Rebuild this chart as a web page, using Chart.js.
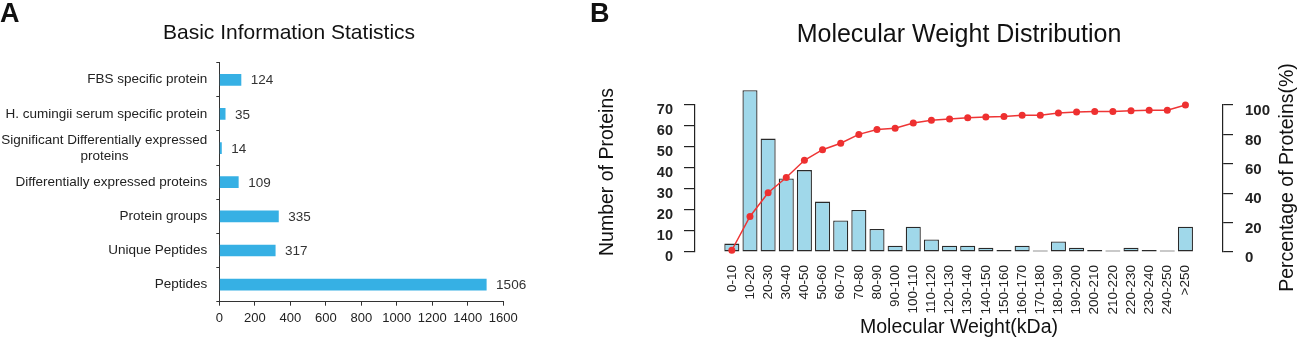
<!DOCTYPE html>
<html>
<head>
<meta charset="utf-8">
<script src="https://cdn.jsdelivr.net/npm/chart.js@4.4.1/dist/chart.umd.min.js"></script>
<style>
  html, body { margin: 0; padding: 0; background: #fff; }
  body { width: 1300px; height: 341px; position: relative; overflow: hidden; font-family: "Liberation Sans", Arial, sans-serif; }
  .tag { position: absolute; top: 0; font-weight: bold; font-size: 27px; line-height: 27px; color: #111; z-index: 2; }
  #wrapA { position: absolute; left: 0; top: 0; width: 578px; height: 341px; }
  #wrapB { position: absolute; left: 580px; top: 0; width: 720px; height: 341px; }
</style>
</head>
<body>
<div id="wrapA"><canvas id="chartA" width="578" height="341"></canvas></div>
<div id="wrapB"><canvas id="chartB" width="720" height="341"></canvas></div>
<div class="tag" style="left:0px">A</div>
<div class="tag" style="left:590px">B</div>
<script>
// panel A - basic info
// (the trailing spaces push "proteins" under the middle of the line above)
const basicLabels = [
  'FBS specific protein',
  'H. cumingii serum specific protein',
  ['Significant Differentially expressed', 'proteins' + '\u00a0'.repeat(21)],
  'Differentially expressed proteins',
  'Protein groups',
  'Unique Peptides',
  'Peptides'
];
const basicCounts = [124, 35, 14, 109, 335, 317, 1506];

// panel B - molecular weight
const weightBins = ['0-10', '10-20', '20-30', '30-40', '40-50', '50-60', '60-70', '70-80', '80-90', '90-100',
  '100-110', '110-120', '120-130', '130-140', '140-150', '150-160', '160-170', '170-180', '180-190',
  '190-200', '200-210', '210-220', '220-230', '230-240', '240-250', '>250'];
const proteinCounts = [4, 77, 54, 35, 39, 24, 15, 20, 11, 3, 12, 6, 3, 3, 2, 1, 3, 0, 5, 2, 1, 0, 2, 1, 0, 12];
const cumulativePct = [1.2, 24.2, 40.3, 50.7, 62.4, 69.6, 74.0, 80.0, 83.3, 84.2, 87.8, 89.6, 90.4, 91.3,
  91.9, 92.2, 93.1, 93.1, 94.6, 95.2, 95.5, 95.5, 96.1, 96.4, 96.4, 100];

const FONT = '"Liberation Sans", Arial, sans-serif';
Chart.defaults.font.family = FONT;
Chart.defaults.color = '#222';

// numbers right of the bars in panel A
const barValueLabels = {
  id: 'barValueLabels',
  afterDatasetsDraw(chart) {
    const ctx = chart.ctx;
    const meta = chart.getDatasetMeta(0);
    ctx.save();
    ctx.font = '13.5px ' + FONT;
    ctx.fillStyle = '#333';
    ctx.textBaseline = 'middle';
    meta.data.forEach((bar, i) => {
      ctx.fillText(String(basicCounts[i]), bar.x + 9.5, bar.y + 1);
    });
    ctx.restore();
  }
};

// both y titles of panel B read bottom to top
const sideTitles = {
  id: 'sideTitles',
  afterDraw(chart) {
    const area = chart.chartArea;
    const ctx = chart.ctx;
    const mid = (area.top + area.bottom) / 2;
    const put = (text, x, y) => {
      ctx.save();
      ctx.translate(x, y);
      ctx.rotate(-Math.PI / 2);
      ctx.font = '19.5px ' + FONT;
      ctx.fillStyle = '#111';
      ctx.textAlign = 'center';
      ctx.textBaseline = 'middle';
      ctx.fillText(text, 0, 0);
      ctx.restore();
    };
    put('Number of Proteins', chart.scales.y.left + 28, mid - 6.5);
    put('Percentage of Proteins(%)', chart.scales.y2.right - 12, mid - 1);
  }
};

new Chart(document.getElementById('chartA'), {
  type: 'bar',
  data: {
    labels: basicLabels,
    datasets: [{
      data: basicCounts,
      backgroundColor: '#36b0e4',
      barPercentage: 0.343,
      categoryPercentage: 1
    }]
  },
  options: {
    indexAxis: 'y',
    responsive: false,
    animation: false,
    layout: { padding: 0 },
    plugins: {
      legend: { display: false },
      tooltip: { enabled: false },
      title: {
        display: true,
        text: 'Basic Information Statistics',
        color: '#111',
        font: { size: 21, weight: 'normal' },
        padding: { top: 20.4, bottom: 17.1 }
      }
    },
    scales: {
      x: {
        min: 0,
        max: 1600,
        ticks: { stepSize: 200, maxRotation: 0, autoSkip: false, font: { size: 13 }, color: '#222', padding: 5,
          callback: (v) => String(v) },
        grid: { drawOnChartArea: false, tickLength: 4, color: '#333' },
        border: { color: '#333' },
        afterFit: (s) => { s.height = 39.3; }
      },
      y: {
        ticks: { autoSkip: false, font: { size: 13.5 }, color: '#222', padding: 9 },
        grid: { drawOnChartArea: false, tickLength: 3, color: '#333', offset: true },
        border: { color: '#333' },
        afterFit: (s) => { s.width = 219.3; }
      },
      // empty strip on the right so the title centres like the original
      pad: {
        type: 'linear',
        position: 'right',
        display: true,
        ticks: { display: false },
        grid: { display: false, drawTicks: false },
        border: { display: false },
        afterFit: (s) => { s.width = 74.7; }
      }
    }
  },
  plugins: [barValueLabels]
});

new Chart(document.getElementById('chartB'), {
  data: {
    datasets: [
      {
        type: 'line',
        data: weightBins.map((b, i) => ({ x: i, y: cumulativePct[i] })),
        yAxisID: 'y2',
        borderColor: '#ee3535',
        backgroundColor: '#ee3030',
        borderWidth: 1.5,
        pointRadius: 3.5,
        pointBorderWidth: 0,
        tension: 0,
        clip: false,
        order: 0
      },
      {
        type: 'bar',
        data: weightBins.map((b, i) => ({ x: i, y: proteinCounts[i] })),
        yAxisID: 'y',
        backgroundColor: '#a0d8ea',
        borderColor: '#2a2a2a',
        borderWidth: 1.3,
        borderSkipped: false,
        minBarLength: 1.5,
        barPercentage: 0.83,
        categoryPercentage: 1,
        clip: false,
        order: 1
      }
    ]
  },
  options: {
    responsive: false,
    animation: false,
    layout: { padding: 0 },
    plugins: {
      legend: { display: false },
      tooltip: { enabled: false },
      title: {
        display: true,
        text: 'Molecular Weight Distribution',
        fullSize: false,
        color: '#111',
        font: { size: 25, weight: 'normal' },
        padding: { top: 20, bottom: 55 }
      }
    },
    scales: {
      x: {
        type: 'linear',
        position: 'bottom',
        offset: false,
        min: -2.03,
        max: 27.07,
        afterBuildTicks: (s) => { s.ticks = weightBins.map((b, i) => ({ value: i })); },
        grid: { display: false, drawTicks: false, offset: false },
        border: { display: false },
        ticks: {
          autoSkip: false,
          minRotation: 90,
          maxRotation: 90,
          padding: 13,
          font: { size: 13.5 },
          color: '#222',
          callback: (v) => weightBins[v]
        },
        title: {
          display: true,
          text: 'Molecular Weight(kDa)',
          color: '#111',
          font: { size: 19.5 },
          padding: { top: 0, bottom: 1.3 }
        },
        afterFit: (s) => { s.height = 89; }
      },
      y: {
        position: 'left',
        min: 0,
        max: 70,
        ticks: { stepSize: 10, font: { size: 14.5, weight: 'bold' }, color: '#222', padding: 11, labelOffset: 5 },
        grid: { drawOnChartArea: false, tickLength: 11, color: '#222', lineWidth: 1.2 },
        border: { color: '#222', width: 1.2 },
        afterFit: (s) => { s.width = 115; }
      },
      y2: {
        position: 'right',
        min: 0,
        max: 100,
        ticks: { stepSize: 20, font: { size: 15, weight: 'bold' }, color: '#222', padding: 12, labelOffset: 6 },
        grid: { drawOnChartArea: false, tickLength: 10, color: '#222', lineWidth: 1.2 },
        border: { color: '#222', width: 1.2 },
        afterFit: (s) => { s.width = 77; }
      }
    }
  },
  plugins: [sideTitles]
});
</script>
</body>
</html>
